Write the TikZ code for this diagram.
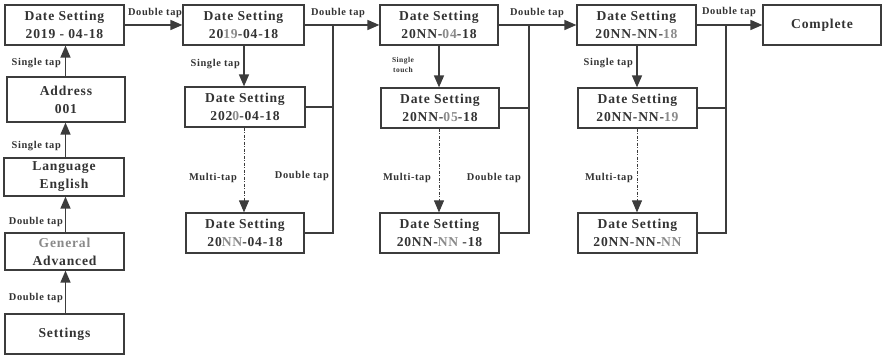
\documentclass[tikz,border=0pt]{standalone}
\usepackage{fontspec}
\setmainfont{Liberation Serif}[LetterSpace=6]
\usetikzlibrary{arrows.meta}
\definecolor{linec}{HTML}{3C3C3C}
\definecolor{txt}{HTML}{333333}
\definecolor{hlc}{HTML}{8A8A8A}
\newcommand{\gry}[1]{\textcolor{hlc}{#1}}
\tikzset{
  box/.style={draw=linec, line width=1.2pt, align=center, text=txt, inner sep=0pt,
    font=\bfseries\fontsize{13.6}{18}\selectfont, minimum height=40pt},
  lbl/.style={text=txt, inner sep=0pt, font=\bfseries\fontsize{10.4}{12}\selectfont},
  conn/.style={draw=linec, line width=1.5pt, -{Triangle[length=12pt,width=10pt]}},
  dconn/.style={draw=linec, line width=1pt, dash pattern=on 3pt off 1.5pt on 1pt off 1.5pt, -{Triangle[length=12pt,width=10pt]}},
  feed/.style={draw=linec, line width=1.2pt},
}
\begin{document}
\begin{tikzpicture}[x=1pt,y=-1pt]
\useasboundingbox (0,0) rectangle (882,355);
% left column
\node[box, minimum width=119pt] (L1) at (64.5,25) {Date Setting\\2019 - 04-18};
\node[box, minimum width=118pt, minimum height=45pt] (L2) at (66,99.5) {Address\\001};
\node[box, minimum width=120pt, minimum height=38pt] (L3) at (64,177) {Language\\English};
\node[box, minimum width=119pt, minimum height=37pt] (L4) at (64.5,251.5) {\gry{General}\\Advanced};
\node[box, minimum width=119pt] (L5) at (64.5,334) {Settings};
\draw[conn] (L2.north -| 65.5,0) -- (L1.south -| 65.5,0);
\draw[conn] (L3.north -| 65.5,0) -- (L2.south -| 65.5,0);
\draw[conn] (L4.north -| 65.5,0) -- (L3.south -| 65.5,0);
\draw[conn] (L5.north -| 65.5,0) -- (L4.south -| 65.5,0);
\node[lbl, anchor=east] (t1) at (61,63) {Single tap};
\node[lbl, anchor=east] (t2) at (61,146) {Single tap};
\node[lbl, anchor=east] (t3) at (63,222) {Double tap};
\node[lbl, anchor=east] (t4) at (63,298) {Double tap};
% column 2
\node[box, minimum width=121pt] (A) at (243.5,25) {Date Setting\\20\gry{19}-04-18};
\node[box, minimum width=120pt] (B) at (245,107) {Date Setting\\202\gry{0}-04-18};
\node[box, minimum width=118pt] (C) at (245,233) {Date Setting\\20\gry{NN}-04-18};
\draw[conn] (L1.east) -- (A.west);
\node[lbl] (t5) at (155,13) {Double tap};
\draw[conn] (A.south -| 244,0) -- (B.north -| 244,0);
\draw[dconn] (B.south -| 244,0) -- (C.north -| 244,0);
\node[lbl, anchor=east] (t6) at (240,64) {Single tap};
\node[lbl, anchor=east] (t7) at (237,178) {Multi-tap};
\coordinate (j1) at (333,25);
\draw[feed] (C.east) -| (j1);
\draw[feed] (B.east) -- (B.east -| j1);
\node[lbl, anchor=east] (t8) at (329,176) {Double tap};
% column 3
\node[box, minimum width=118pt] (D) at (439,25) {Date Setting\\20NN-\gry{04}-18};
\node[box, minimum width=118pt] (E) at (440,108) {Date Setting\\20NN-\gry{05}-18};
\node[box, minimum width=119pt] (F) at (439.5,233) {Date Setting\\20NN-\gry{NN} -18};
\draw[conn] (A.east) -- (D.west);
\node[lbl] (t9) at (338,13) {Double tap};
\draw[conn] (D.south -| 439,0) -- (E.north -| 439,0);
\draw[dconn] (E.south -| 439,0) -- (F.north -| 439,0);
\node[lbl, align=center, font=\bfseries\fontsize{7.5}{10}\selectfont] (t10) at (403,65) {Single\\touch};
\node[lbl, anchor=east] (t11) at (431,178) {Multi-tap};
\coordinate (j2) at (529,25);
\draw[feed] (F.east) -| (j2);
\draw[feed] (E.east) -- (E.east -| j2);
\node[lbl, anchor=east] (t12) at (521,178) {Double tap};
% column 4
\node[box, minimum width=119pt] (G) at (636.5,25) {Date Setting\\20NN-NN-\gry{18}};
\node[box, minimum width=119pt] (H) at (637.5,108) {Date Setting\\20NN-NN-\gry{19}};
\node[box, minimum width=119pt] (I) at (637.5,233) {Date Setting\\20NN-NN-\gry{NN}};
\draw[conn] (D.east) -- (G.west);
\node[lbl] (t13) at (537,13) {Double tap};
\draw[conn] (G.south -| 637,0) -- (H.north -| 637,0);
\draw[dconn] (H.south -| 637,0) -- (I.north -| 637,0);
\node[lbl, anchor=east] (t14) at (633,63) {Single tap};
\node[lbl, anchor=east] (t15) at (633,178) {Multi-tap};
\coordinate (j3) at (726,25);
\draw[feed] (I.east) -| (j3);
\draw[feed] (H.east) -- (H.east -| j3);
% complete
\node[box, minimum width=118pt] (K) at (822,25) {Complete};
\draw[conn] (G.east) -- (K.west);
\node[lbl] (t16) at (729,12) {Double tap};
\end{tikzpicture}
\end{document}
